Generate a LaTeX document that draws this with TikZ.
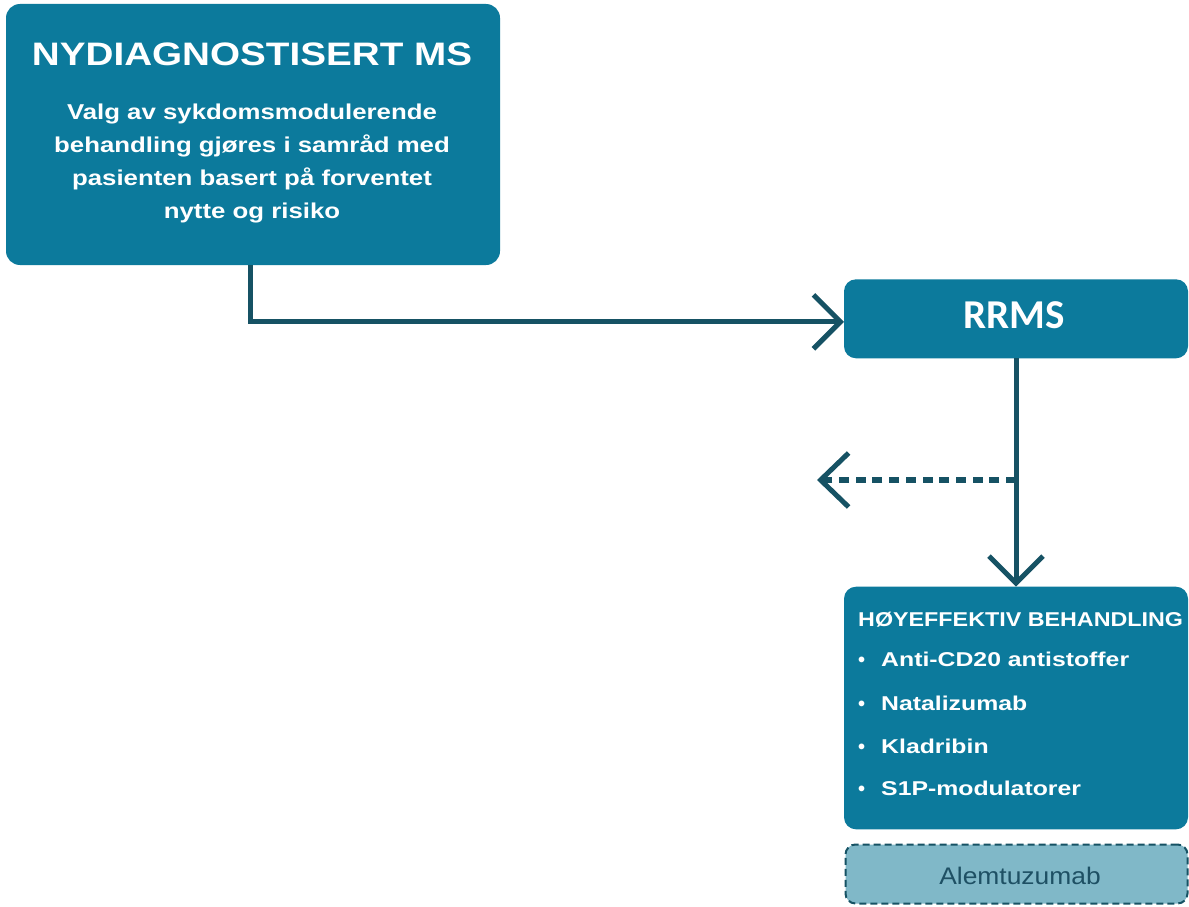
\documentclass[tikz,border=0pt]{standalone}
\usepackage{fontspec}
\setmainfont{Liberation Sans}
\newfontfamily\carl{Carlito}
\usetikzlibrary{arrows.meta}
\definecolor{boxblue}{RGB}{12,122,156}
\definecolor{arrowc}{RGB}{22,82,100}
\definecolor{lightbox}{RGB}{128,184,200}
\definecolor{alemtext}{RGB}{30,80,100}
\begin{document}
\begin{tikzpicture}[x=1pt,y=-1pt,
  box/.style={fill=boxblue, rounded corners=14pt, inner sep=0pt, outer sep=0pt, draw=none},
  conn/.style={draw=arrowc, line width=5pt},
  tip/.style={-{Straight Barb[length=27pt,width=54pt,line width=5pt]}},
  txt/.style={inner sep=0pt, anchor=base, text=white},
  body/.style={txt, font=\bfseries\fontsize{21.5pt}{26pt}\selectfont},
  item/.style={txt, anchor=base west, font=\bfseries\fontsize{20pt}{24pt}\selectfont},
]
\useasboundingbox (0,0) rectangle (1189,907);
\clip (0,0) rectangle (1189,907);
\fill[white] (0,0) rectangle (1189,907);

% boxes
\node[box, minimum width=494pt, minimum height=261pt] (top) at (253,134.5) {};
\node[box, rounded corners=12pt, minimum width=344pt, minimum height=79pt] (rrms) at (1016,318.8) {};
\node[box, rounded corners=12pt, minimum width=344pt, minimum height=242.6pt] (hoy) at (1016,708) {};
\node[fill=lightbox, draw=arrowc, line width=2pt, dash pattern=on 7pt off 4pt,
      rounded corners=10pt, inner sep=0pt, minimum width=342pt, minimum height=59pt] (alem) at (1016.5,874) {};

% top box text
\node[txt, font=\bfseries\fontsize{32.5pt}{39pt}\selectfont] (t1) at (252,66) {\scalebox{1.189}[1]{NYDIAGNOSTISERT MS}};
\node[body] (b1) at (252,119.5) {\scalebox{1.2}[1]{Valg av sykdomsmodulerende}};
\node[body] (b2) at (252,152.5) {\scalebox{1.2}[1]{behandling gjøres i samråd med}};
\node[body] (b3) at (252,185.5) {\scalebox{1.2}[1]{pasienten basert på forventet}};
\node[body] (b4) at (252,218.5) {\scalebox{1.2}[1]{nytte og risiko}};

% RRMS text
\node[txt, font=\carl\bfseries\fontsize{41pt}{48pt}\selectfont] (rt) at (1014,328.3) {RRMS};

% high-efficacy box text
\node[item] (ht) at (858,626) {\scalebox{1.165}[1]{HØYEFFEKTIV BEHANDLING}};
\node[item] (d1) at (858,666.7) {•};
\node[item] (i1) at (881,666.7) {\scalebox{1.24}[1]{Anti-CD20 antistoffer}};
\node[item] (d2) at (858,710) {•};
\node[item] (i2) at (881,710) {\scalebox{1.24}[1]{Natalizumab}};
\node[item] (d3) at (858,753.3) {•};
\node[item] (i3) at (881,753.3) {\scalebox{1.24}[1]{Kladribin}};
\node[item] (d4) at (858,795.5) {•};
\node[item] (i4) at (881,795.5) {\scalebox{1.24}[1]{S1P-modulatorer}};

% Alemtuzumab text
\node[inner sep=0pt, anchor=base, text=alemtext, font=\fontsize{24pt}{29pt}\selectfont] (at) at (1020,884) {\scalebox{1.1}[1]{Alemtuzumab}};

% connectors
\draw[conn,tip] ([xshift=-2.3pt]top.south) |- ([yshift=-3pt]rrms.west);
\draw[conn,tip] (rrms.south) -- (hoy.north);
\coordinate (dy) at (0,480);
\coordinate (dsplit) at (rrms.south |- dy);
\coordinate (dend) at (817,480);
\draw[draw=arrowc, line width=6.5pt, dash pattern=on 10pt off 6.7pt,
      -{Straight Barb[length=28pt,width=54pt,line width=5pt]}] (dsplit) -- (dend);
\end{tikzpicture}
\end{document}
